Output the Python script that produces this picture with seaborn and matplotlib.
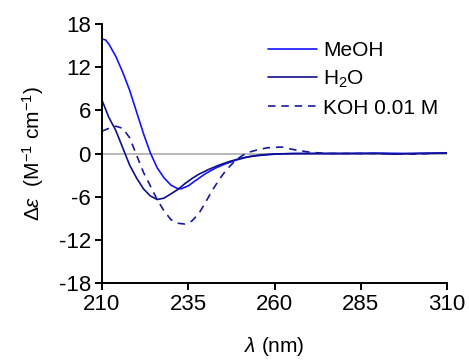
import matplotlib
matplotlib.use('Agg')
import matplotlib.pyplot as plt
import seaborn as sns

# wavelength (nm) / delta epsilon readings for each solvent
meoh_wl = [210, 211, 212, 214, 216, 218, 220, 222, 224, 226, 228, 230, 232, 233, 235, 237,
           240, 243, 246, 249, 252, 255, 260, 265, 270, 280, 290, 300, 310]
meoh_de = [15.9, 15.8, 15.2, 13.5, 11.3, 8.8, 5.8, 2.8, 0.1, -2.0, -3.4, -4.4, -4.9, -4.9, -4.5, -3.8,
           -2.8, -2.0, -1.4, -0.9, -0.5, -0.3, -0.1, 0.0, 0.0, 0.0, 0.05, 0.0, 0.1]

h2o_wl = [210, 212, 214, 216, 218, 220, 222, 224, 226, 228, 230, 232, 234, 236, 238,
          241, 244, 247, 250, 253, 256, 260, 270, 280, 290, 295, 300, 310]
h2o_de = [7.4, 5.0, 3.2, 0.8, -1.6, -3.4, -4.9, -5.9, -6.4, -6.2, -5.6, -5.0, -4.2, -3.5, -2.9,
          -2.2, -1.6, -1.1, -0.7, -0.4, -0.2, -0.05, 0.0, 0.0, 0.0, -0.1, 0.0, 0.05]

koh_wl = [210, 212, 214, 216, 218, 220, 222, 224, 226, 228, 230, 232, 234, 236, 238, 240,
          242, 244, 246, 248, 250, 252, 255, 258, 262, 266, 270, 275, 280, 290, 300, 310]
koh_de = [3.1, 3.5, 3.8, 3.5, 2.2, -0.2, -2.6, -4.5, -6.4, -8.0, -9.2, -9.7, -9.8, -9.4, -8.4, -6.8,
          -5.1, -3.6, -2.3, -1.3, -0.5, 0.1, 0.5, 0.8, 0.9, 0.5, 0.2, 0.0, 0.0, 0.0, -0.1, 0.1]

x_ticks = [210, 235, 260, 285, 310]
y_ticks = [-18, -12, -6, 0, 6, 12, 18]

sns.set_theme(style='ticks')
plt.rcParams['font.family'] = ['Liberation Sans', 'DejaVu Sans']
plt.rcParams['mathtext.fontset'] = 'custom'
plt.rcParams['mathtext.rm'] = 'Liberation Sans'
plt.rcParams['mathtext.it'] = 'Liberation Sans:italic'
plt.rcParams['axes.unicode_minus'] = False
plt.rcParams['text.color'] = 'black'
plt.rcParams['axes.labelcolor'] = 'black'

fig = plt.figure(figsize=(4.69, 3.6), dpi=100)
ax = fig.add_axes([102 / 469, 1 - 283 / 360, 345 / 469, 259 / 360])

ax.axhline(0, color='#a6a6a6', lw=1.1, zorder=0)

sns.lineplot(x=meoh_wl, y=meoh_de, ax=ax, color='#1414ff', lw=1.2, label='MeOH')
sns.lineplot(x=h2o_wl, y=h2o_de, ax=ax, color='#10108c', lw=1.2, label='H$_2$O')
sns.lineplot(x=koh_wl, y=koh_de, ax=ax, color='#1818a0', lw=1.2, label='KOH 0.01 M')
ax.lines[-1].set_dashes([4.5, 3.5])

ax.set_xlim(210, 310)
ax.set_ylim(-18, 18)
ax.set_xticks(x_ticks)
ax.set_yticks(y_ticks)
ax.tick_params(labelsize=16, width=1.4, length=5, color='black', labelcolor='black', pad=3)
for s in ['top', 'right']:
    ax.spines[s].set_visible(False)
for s in ['left', 'bottom']:
    ax.spines[s].set_linewidth(1.4)
    ax.spines[s].set_color('black')

ax.set_xlabel(r'$\lambda$ (nm)', fontsize=15, labelpad=14)
ax.set_ylabel(r'$\Delta\varepsilon$  (M$^{-1}$ cm$^{-1}$)', fontsize=15, labelpad=9)

leg = ax.legend(loc='upper left', bbox_to_anchor=(0.481, 0.935), frameon=False, fontsize=15,
                handlelength=2.35, handletextpad=0.3, labelspacing=0.42,
                borderpad=0, borderaxespad=0)
ax.get_legend().get_lines()[-1].set_dashes([4.5, 3.5])

fig.savefig('out.png', dpi=100)
